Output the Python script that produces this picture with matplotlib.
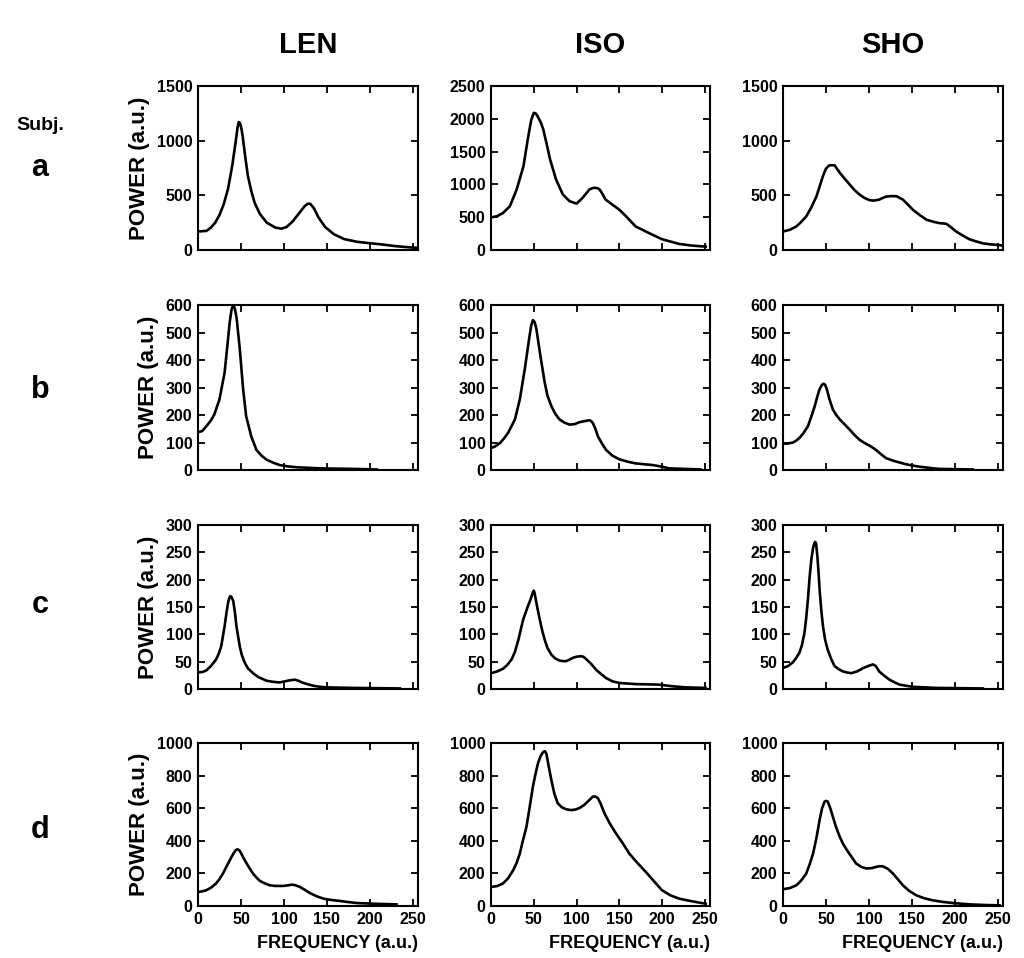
import matplotlib
matplotlib.use("Agg")
import matplotlib.pyplot as plt

plt.rcParams['font.family'] = ['Liberation Sans', 'DejaVu Sans']
plt.rcParams['font.weight'] = 'bold'

conditions = ["LEN", "ISO", "SHO"]
subjects = ["a", "b", "c", "d"]
x_ticks = [0, 50, 100, 150, 200, 250]

# ---- Subject a ----
a_len_f = [0, 10, 15, 20, 25, 30, 35, 40, 44, 46, 47.5, 49, 50.5, 52, 55, 58, 62, 66, 72, 80, 90, 97, 103, 110, 118, 124, 128, 131, 135, 140, 148, 158, 170, 185, 200, 215, 230, 245, 255]
a_len_p = [169, 175, 205, 250, 320, 420, 560, 780, 1000, 1120, 1170, 1160, 1110, 1040, 850, 680, 540, 430, 330, 250, 205, 195, 210, 260, 340, 400, 425, 420, 380, 300, 210, 145, 100, 75, 62, 50, 35, 25, 20]

a_iso_f = [0, 7, 14, 22, 30, 38, 43, 47, 50, 52, 54, 58, 61, 65, 69, 76, 84, 92, 100, 107, 115, 119, 122, 125, 127, 130, 134, 142, 150, 158, 169, 185, 200, 220, 235, 251]
a_iso_p = [497, 515, 563, 666, 922, 1280, 1690, 1980, 2090, 2085, 2050, 1950, 1844, 1620, 1383, 1076, 845, 743, 707, 794, 922, 945, 948, 940, 922, 860, 768, 690, 615, 512, 359, 256, 164, 92, 67, 51]

a_sho_f = [0, 8, 15.5, 21, 27, 33, 39, 43, 46.5, 50, 54, 60, 66, 72, 77.5, 83, 89, 95, 101, 106, 112, 116, 120, 126, 132, 139.5, 145, 151, 159, 167, 175, 182, 186, 190, 196, 201.5, 209, 217, 225, 232.5, 241, 250, 256]
a_sho_p = [169, 185, 215, 255, 307, 390, 492, 590, 676, 745, 775, 775, 707, 650, 600, 550, 507, 475, 455, 452, 461, 476, 488, 493, 492, 461, 418, 369, 320, 277, 258, 246, 243, 240, 205, 169, 133, 98, 78, 61, 52, 46, 40]

# ---- Subject b ----
b_len_f = [0, 5, 9.7, 15, 19, 25, 31, 35, 37, 39, 40.5, 41.5, 43, 45, 48.6, 52.5, 56, 62, 68, 74, 80, 88, 95, 105, 115, 142, 181, 208]
b_len_p = [137, 142, 159, 180, 202, 257, 355, 478, 540, 582, 598, 598, 585, 551, 441, 294, 196, 122, 73, 52, 37, 26, 18, 13, 10, 6, 4, 2]

b_iso_f = [0, 5, 10.5, 15, 20, 28, 33.7, 39.5, 44.6, 47, 49, 51, 53, 57.7, 62.8, 66, 70.5, 75, 80, 86, 92, 98, 103.5, 110, 115, 117, 119, 122, 125, 130, 134.5, 142, 150, 160, 169, 189, 200, 208, 245]
b_iso_p = [80, 86, 98, 114, 135, 184, 257, 367, 478, 525, 545, 538, 514, 416, 318, 270, 233, 205, 184, 172, 165, 167, 174, 178, 181, 178, 171, 150, 122, 95, 73, 52, 39, 30, 24, 18, 12, 6, 2]

b_sho_f = [0, 5, 11.6, 15, 19, 24, 29, 33, 37, 40, 42.6, 45, 47, 49, 51, 54, 58, 62, 66, 72, 77.5, 83, 89, 95, 101, 106, 110.5, 115, 120, 128, 136, 143, 151, 159, 167, 175, 182, 200, 221]
b_sho_p = [96, 96, 100, 106, 116, 135, 159, 195, 233, 268, 294, 308, 314, 310, 294, 258, 220, 200, 184, 165, 147, 128, 110, 98, 88, 78, 67, 55, 43, 34, 27, 21, 16, 12, 9, 6, 4, 3, 2]

# ---- Subject c ----
c_len_f = [0, 5, 9.7, 15, 21, 24, 27, 31, 33, 35, 36.5, 37.7, 39, 41, 43, 44.7, 48.6, 51, 54.4, 58, 64, 70, 80, 88, 95, 101, 107, 113, 117, 121, 127, 134, 142, 150, 165, 181, 210, 235]
c_len_p = [30.5, 31, 34, 42, 54, 64, 78, 115, 138, 158, 167, 170, 168, 161, 140, 115, 78, 62, 48, 38, 29, 22, 15, 13, 12, 14, 16, 17, 15, 12, 9, 6, 4, 3, 2.5, 2, 1.5, 1]

c_iso_f = [0, 7, 14, 19, 24, 28, 32, 37.6, 43, 46, 49, 50, 51, 54, 57, 60, 62.8, 66, 70.5, 75, 80, 84, 88, 92, 95.7, 100, 105, 108, 111, 117, 123, 129, 134.5, 142, 150, 169, 196.5, 212, 227.5, 251]
c_iso_p = [29, 32, 37, 44, 54, 68, 90, 127, 151, 163, 177, 180, 175, 150, 127, 106, 90, 75, 63, 56, 52, 51, 51, 54, 57, 59, 60, 59, 55, 46, 35, 27, 20, 14, 11, 9, 8, 5, 3, 2]

c_sho_f = [0, 6, 11.6, 15, 19, 22, 25, 27, 29, 31, 33, 35, 36.5, 37.5, 38.5, 40, 41.5, 42.6, 44.5, 46.5, 49, 52, 56, 60, 65, 70, 75, 79.5, 86, 93, 99, 104.7, 108, 112, 118, 124, 130, 135.7, 143, 151, 165, 178, 205, 232.5]
c_sho_p = [38.5, 42, 49, 56, 66, 80, 103, 130, 164, 205, 237, 258, 267, 269, 266, 243, 210, 182, 145, 115, 90, 72, 55, 42, 36, 32, 30, 29, 32, 38, 42, 45, 42, 32, 24, 17, 12, 8, 6, 4, 3, 2, 1.5, 1]

# ---- Subject d ----
d_len_f = [0, 5, 9.7, 15, 21, 25, 29, 33, 37, 41, 44, 46, 48.6, 51, 54.4, 59, 64, 68, 72, 78, 83.6, 90, 99, 104, 109, 113, 118.6, 124, 130, 138, 146, 155, 165, 175, 185, 195, 204, 231]
d_len_p = [86, 90, 97, 112, 138, 165, 199, 240, 281, 320, 343, 348, 339, 315, 281, 240, 199, 175, 154, 138, 127, 123, 123, 126, 131, 128, 117, 100, 80, 60, 45, 37, 31, 24, 18, 16, 14, 10]

d_iso_f = [0, 7, 14, 20, 26, 30, 33.7, 37, 41.5, 45, 49, 52, 55, 58, 61, 63, 64.7, 67, 70.5, 74, 78, 83, 88, 94, 99.6, 104, 109, 114, 119, 122, 125, 128, 132.6, 139, 146, 154, 161.6, 171, 181, 190, 200, 210, 220, 230, 239, 251]
d_iso_p = [117, 122, 138, 170, 220, 265, 322, 395, 487, 600, 733, 810, 877, 920, 945, 950, 935, 870, 774, 690, 630, 605, 593, 588, 593, 603, 620, 645, 671, 672, 661, 630, 569, 505, 446, 385, 322, 265, 209, 155, 96, 65, 45, 34, 25, 14]

d_sho_f = [0, 8, 15.5, 21, 27, 31, 35, 39, 42.6, 45.5, 48.4, 50, 52, 55, 58, 62, 66, 70, 75.6, 80, 85, 91, 97, 103, 108.5, 112, 116, 122, 128, 134, 139.5, 147, 155, 164, 174, 186, 198, 217, 236, 252]
d_sho_p = [103, 110, 127, 155, 199, 255, 322, 420, 528, 600, 641, 645, 641, 600, 548, 480, 425, 380, 333, 300, 261, 240, 230, 232, 240, 244, 244, 228, 199, 162, 127, 92, 66, 48, 35, 25, 18, 10, 6, 4]

y_ticks = [
    [[0, 500, 1000, 1500], [0, 500, 1000, 1500, 2000, 2500], [0, 500, 1000, 1500]],
    [[0, 100, 200, 300, 400, 500, 600]] * 3,
    [[0, 50, 100, 150, 200, 250, 300]] * 3,
    [[0, 200, 400, 600, 800, 1000]] * 3,
]
y_lims = [[1500, 2500, 1500], [600, 600, 600], [300, 300, 300], [1000, 1000, 1000]]

series = [
    [(a_len_f, a_len_p), (a_iso_f, a_iso_p), (a_sho_f, a_sho_p)],
    [(b_len_f, b_len_p), (b_iso_f, b_iso_p), (b_sho_f, b_sho_p)],
    [(c_len_f, c_len_p), (c_iso_f, c_iso_p), (c_sho_f, c_sho_p)],
    [(d_len_f, d_len_p), (d_iso_f, d_iso_p), (d_sho_f, d_sho_p)],
]

W, H = 1024, 958
fig = plt.figure(figsize=(W / 100, H / 100), dpi=100)

col_lr = [(198, 418), (491, 710), (783, 1003)]
row_tb = [(86, 250), (305, 470), (525, 689), (743, 906)]

for r in range(4):
    for c in range(3):
        l, rr = col_lr[c]
        t, b = row_tb[r]
        ax = fig.add_axes([l / W, 1 - b / H, (rr - l) / W, (b - t) / H])
        f, p = series[r][c]
        ax.plot(f, p, color='black', lw=1.9, solid_joinstyle='round')
        ax.set_xlim(0, 256)
        ax.set_ylim(0, y_lims[r][c])
        ax.set_xticks(x_ticks)
        ax.set_yticks(y_ticks[r][c])
        ax.tick_params(direction='in', top=True, right=True, length=5, width=1.3,
                       labelsize=11.5, pad=4)
        for lab in ax.get_yticklabels() + ax.get_xticklabels():
            lab.set_fontweight('bold')
        if r < 3:
            ax.set_xticklabels([])
        for s in ax.spines.values():
            s.set_linewidth(1.5)
        if c == 0:
            ax.set_ylabel("POWER (a.u.)", fontsize=16, fontweight='bold', labelpad=5)
        if r == 3:
            ax.set_xlabel("FREQUENCY (a.u.)", fontsize=13, fontweight='bold', loc='right', labelpad=6)

for c, name in enumerate(conditions):
    l, rr = col_lr[c]
    fig.text((l + rr) / 2 / W, 1 - 45 / H, name, ha='center', va='center', fontsize=21, fontweight='bold')

fig.text(40 / W, 1 - 125 / H, "Subj.", ha='center', va='center', fontsize=14, fontweight='bold')

row_letter_y = [168, 390, 605, 830]
for r, s in enumerate(subjects):
    fig.text(40 / W, 1 - row_letter_y[r] / H, s, ha='center', va='center', fontsize=22, fontweight='bold')

fig.savefig("out.png", dpi=100)
